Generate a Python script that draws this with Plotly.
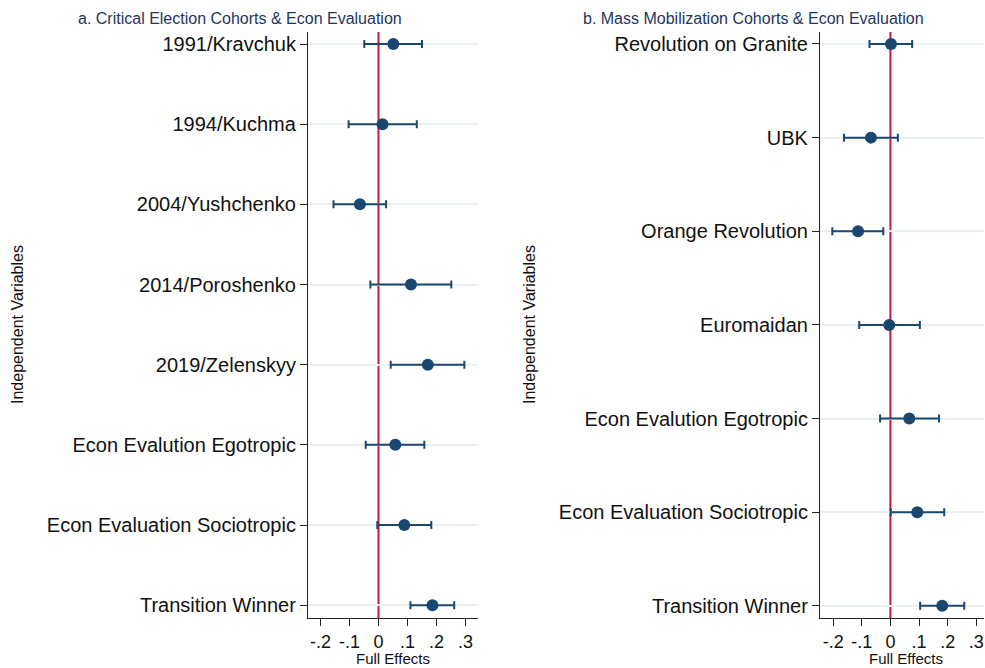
import plotly.graph_objects as go

# Panel a
a_labels = ["1991/Kravchuk", "1994/Kuchma", "2004/Yushchenko", "2014/Poroshenko",
            "2019/Zelenskyy", "Econ Evalution Egotropic", "Econ Evaluation Sociotropic",
            "Transition Winner"]
a_est = [0.051, 0.014, -0.064, 0.112, 0.170, 0.058, 0.089, 0.186]
a_lo = [-0.049, -0.103, -0.155, -0.028, 0.042, -0.044, -0.004, 0.110]
a_hi = [0.150, 0.132, 0.026, 0.251, 0.296, 0.158, 0.182, 0.261]

# Panel b
b_labels = ["Revolution on Granite", "UBK", "Orange Revolution", "Euromaidan",
            "Econ Evalution Egotropic", "Econ Evaluation Sociotropic", "Transition Winner"]
b_est = [0.002, -0.068, -0.113, -0.004, 0.066, 0.094, 0.181]
b_lo = [-0.073, -0.162, -0.203, -0.109, -0.036, 0.001, 0.104]
b_hi = [0.076, 0.026, -0.025, 0.103, 0.170, 0.188, 0.258]

x_tickvals = [-0.2, -0.1, 0, 0.1, 0.2, 0.3]
x_ticktext = ["-.2", "-.1", "0", ".1", ".2", ".3"]

NAVY = "#1a476f"
RED = "#c8163c"
W, H = 985, 668
FONT = "Liberation Sans, Arial, sans-serif"

fig = go.Figure()

def add_panel(labels, est, lo, hi, xa, ya):
    ys = list(range(len(labels)))
    fig.add_trace(go.Scatter(
        x=est, y=ys, mode="markers",
        marker=dict(color=NAVY, size=12),
        error_x=dict(type="data", symmetric=False,
                     array=[h - e for h, e in zip(hi, est)],
                     arrayminus=[e - l for e, l in zip(est, lo)],
                     color=NAVY, thickness=2, width=4),
        xaxis=xa, yaxis=ya, showlegend=False, hoverinfo="skip"))

add_panel(a_labels, a_est, a_lo, a_hi, "x", "y")
add_panel(b_labels, b_est, b_lo, b_hi, "x2", "y2")

def px_x(p):
    return p / W

def px_y(p):
    return 1 - p / H

common_x = dict(tickmode="array", tickvals=x_tickvals, ticktext=x_ticktext,
                showgrid=False, zeroline=False, showline=True, linecolor="#222",
                linewidth=1.2, ticks="outside", ticklen=7, tickcolor="#222",
                tickfont=dict(family=FONT, size=18, color="#111"))
common_y = dict(showgrid=True, gridcolor="#e8f0f2", gridwidth=1.5, zeroline=False,
                showline=True, linecolor="#222", linewidth=1.2, ticks="outside",
                ticklen=7, tickcolor="#222",
                tickfont=dict(family=FONT, size=20, color="#111"))

ydom = [px_y(618), px_y(32)]

fig.update_layout(
    width=W, height=H,
    margin=dict(l=0, r=0, t=0, b=0),
    paper_bgcolor="white", plot_bgcolor="white",
    font=dict(family=FONT),
    xaxis=dict(domain=[px_x(308), px_x(478)], range=[-0.243, 0.343], anchor="y", **common_x),
    yaxis=dict(domain=ydom, anchor="x", tickmode="array",
               tickvals=list(range(len(a_labels))), ticktext=a_labels,
               range=[len(a_labels) - 1 + 0.16, -0.15], **common_y),
    xaxis2=dict(domain=[px_x(820), px_x(984)], range=[-0.246, 0.327], anchor="y2", **common_x),
    yaxis2=dict(domain=ydom, anchor="x2", tickmode="array",
                tickvals=list(range(len(b_labels))), ticktext=b_labels,
                range=[len(b_labels) - 1 + 0.13, -0.128], **common_y),
)

for xa, ya in [("x", "y"), ("x2", "y2")]:
    fig.add_shape(type="line", xref=xa, yref=f"{ya} domain", x0=0, x1=0, y0=0, y1=1,
                  line=dict(color=RED, width=2), layer="below")

title_style = dict(family=FONT, size=16, color="#1f3560")
lab_style = dict(family=FONT, size=15, color="#111")
fig.add_annotation(text="a. Critical Election Cohorts & Econ Evaluation", xref="paper", yref="paper",
                   x=px_x(240), y=px_y(18), xanchor="center", yanchor="middle",
                   showarrow=False, font=title_style)
fig.add_annotation(text="b. Mass Mobilization Cohorts & Econ Evaluation", xref="paper", yref="paper",
                   x=px_x(753), y=px_y(18), xanchor="center", yanchor="middle",
                   showarrow=False, font=title_style)
for xc in [393, 906]:
    fig.add_annotation(text="Full Effects", xref="paper", yref="paper",
                       x=px_x(xc), y=px_y(658), xanchor="center", yanchor="middle",
                       showarrow=False, font=lab_style)
for xc in [18, 530]:
    fig.add_annotation(text="Independent Variables", xref="paper", yref="paper",
                       x=px_x(xc), y=px_y(325), xanchor="center", yanchor="middle",
                       textangle=-90, showarrow=False, font=dict(family=FONT, size=16, color="#111"))

fig.write_html("out.html")
